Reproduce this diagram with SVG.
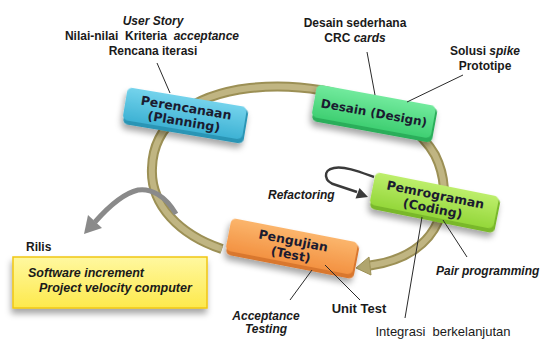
<svg xmlns="http://www.w3.org/2000/svg" width="540" height="340" viewBox="0 0 540 340">
<defs>
<style>
.lbl{font-family:"Liberation Sans",Arial,sans-serif;fill:#1a1a1a;white-space:pre}
.b{font-weight:bold}
.i{font-style:italic}
.box{font-family:"DejaVu Sans",Verdana,sans-serif;font-weight:bold;font-size:12.5px;fill:#1b1b30;text-anchor:middle}
.lead{stroke:#2a2a2a;stroke-width:1;fill:none}
</style>
<filter id="sh" x="-20%" y="-30%" width="140%" height="180%">
<feDropShadow dx="-1" dy="5" stdDeviation="3" flood-color="#000" flood-opacity="0.35"/>
</filter>
<linearGradient id="gP" x1="0" y1="0" x2="0" y2="1"><stop offset="0" stop-color="#74d3ec"/><stop offset="1" stop-color="#3eb2d4"/></linearGradient>
<linearGradient id="gD" x1="0" y1="0" x2="0" y2="1"><stop offset="0" stop-color="#72ea9d"/><stop offset="1" stop-color="#3fcf72"/></linearGradient>
<linearGradient id="gC" x1="0" y1="0" x2="0" y2="1"><stop offset="0" stop-color="#bdee6c"/><stop offset="1" stop-color="#94d73a"/></linearGradient>
<linearGradient id="gT" x1="0" y1="0" x2="0" y2="1"><stop offset="0" stop-color="#fbb56c"/><stop offset="1" stop-color="#f39242"/></linearGradient>
<linearGradient id="gY" x1="0" y1="0" x2="0" y2="1"><stop offset="0" stop-color="#fff8a0"/><stop offset="1" stop-color="#fde94c"/></linearGradient>
</defs>
<rect width="540" height="340" fill="#ffffff"/>

<g id="connectors">
<path d="M222,249 C180,235 150,205 152,168 C153,125 190,95 250,88 C330,80 410,110 435,155 C455,195 445,255 370,265.5" fill="none" stroke="#9c9055" stroke-width="10"/>
<path d="M222,249 C180,235 150,205 152,168 C153,125 190,95 250,88 C330,80 410,110 435,155 C455,195 445,255 370,265.5" fill="none" stroke="#c0b582" stroke-width="6"/>
<polygon points="356,268 371,275 369,257" fill="#b0a56e" stroke="#9c9055" stroke-width="1"/>
<path d="M176,214 C165,195 150,188 138,190 C125,193 110,205 95,222" fill="none" stroke="#8a8a8a" stroke-width="5"/>
<polygon points="84,234 102,228 88,215" fill="#8a8a8a"/>
<path d="M374,177 C360,172 345,166 334,168 C322,170 324,182 336,185 L357,192" fill="none" stroke="#3a3a3a" stroke-width="2.5"/>
<polygon points="368,197 355.5,198.5 359.5,188" fill="#3a3a3a"/>
</g>

<g id="release" filter="url(#sh)">
<rect x="13" y="257" width="194" height="51" fill="url(#gY)" stroke="#f0c614" stroke-width="1.5"/>
</g>

<g id="planning" transform="translate(185,115) rotate(9.5)">
<g filter="url(#sh)">
<rect x="-60" y="-16" width="122" height="35" rx="5" fill="#2a95b5"/>
<rect x="-61" y="-18" width="121" height="33" rx="5" fill="url(#gP)"/>
</g>
<text class="box" x="0" y="-3">Perencanaan</text>
<text class="box" x="0" y="11">(Planning)</text>
</g>

<g id="design" transform="translate(374,113) rotate(10.4)">
<g filter="url(#sh)">
<rect x="-60" y="-16" width="122" height="35" rx="5" fill="#2cae5a"/>
<rect x="-61" y="-18" width="121" height="33" rx="5" fill="url(#gD)"/>
</g>
<text class="box" x="0" y="4" style="font-size:12px">Desain (Design)</text>
</g>

<g id="coding" transform="translate(434,202) rotate(11.3)">
<g filter="url(#sh)">
<rect x="-62" y="-16" width="127" height="35" rx="5" fill="#79b82a"/>
<rect x="-63" y="-18" width="126" height="33" rx="5" fill="url(#gC)"/>
</g>
<text class="box" x="0" y="-3">Pemrograman</text>
<text class="box" x="0" y="11">(Coding)</text>
</g>

<g id="test" transform="translate(292,248) rotate(11)">
<g filter="url(#sh)">
<rect x="-64" y="-16" width="130" height="35" rx="5" fill="#d9772e"/>
<rect x="-65" y="-18" width="129" height="33" rx="5" fill="url(#gT)"/>
</g>
<text class="box" x="0" y="-3">Pengujian</text>
<text class="box" x="0" y="11">(Test)</text>
</g>

<g id="leaders">
<line class="lead" x1="157" y1="63" x2="170" y2="93"/>
<line class="lead" x1="367" y1="52" x2="375" y2="95"/>
<line class="lead" x1="463" y1="75" x2="407" y2="102"/>
<line class="lead" x1="443" y1="220" x2="467" y2="257"/>
<line class="lead" x1="422" y1="217" x2="405" y2="318"/>
<line class="lead" x1="325" y1="265" x2="360" y2="300"/>
<line class="lead" x1="312" y1="270" x2="290" y2="300"/>
</g>

<g id="labels">
<text class="lbl b i" x="153" y="25" font-size="12" text-anchor="middle">User Story</text>
<text class="lbl b" x="152" y="40" font-size="12" text-anchor="middle" xml:space="preserve">Nilai-nilai  Kriteria  <tspan class="i">acceptance</tspan></text>
<text class="lbl b" x="153" y="55" font-size="12" text-anchor="middle">Rencana iterasi</text>
<text class="lbl b" x="355" y="27" font-size="12" text-anchor="middle">Desain sederhana</text>
<text class="lbl b" x="355" y="42" font-size="12" text-anchor="middle">CRC <tspan class="i">cards</tspan></text>
<text class="lbl b" x="485" y="55" font-size="12" text-anchor="middle">Solusi <tspan class="i">spike</tspan></text>
<text class="lbl b" x="485" y="70" font-size="12" text-anchor="middle">Prototipe</text>
<text class="lbl b i" x="268" y="199" font-size="12">Refactoring</text>
<text class="lbl b i" x="436" y="275" font-size="12">Pair programming</text>
<text class="lbl b" x="359" y="313" font-size="13" text-anchor="middle">Unit Test</text>
<text class="lbl" x="443" y="336" font-size="13" text-anchor="middle" xml:space="preserve">Integrasi  berkelanjutan</text>
<text class="lbl b i" x="266" y="320" font-size="12" text-anchor="middle">Acceptance</text>
<text class="lbl b i" x="266" y="333" font-size="12" text-anchor="middle">Testing</text>
<text class="lbl b" x="26" y="251" font-size="12">Rilis</text>
<text class="lbl b i" x="28" y="277" font-size="12.5">Software increment</text>
<text class="lbl b i" x="39" y="292" font-size="12.5">Project velocity computer</text>
</g>
</svg>
